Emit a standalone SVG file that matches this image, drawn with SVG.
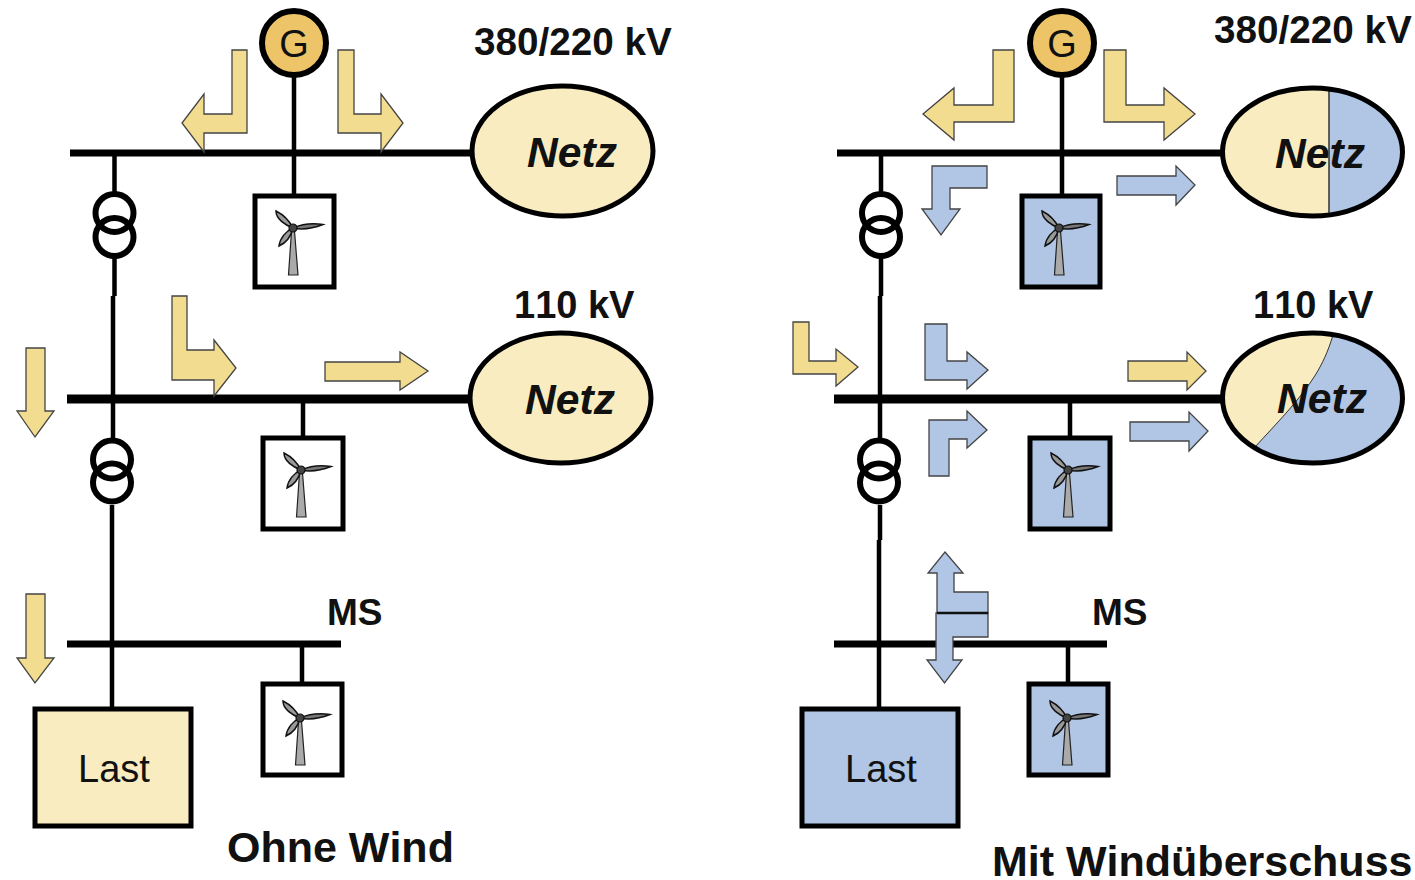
<svg xmlns="http://www.w3.org/2000/svg" width="1415" height="880" viewBox="0 0 1415 880">
<style>
text{font-family:"Liberation Sans",Arial,sans-serif;fill:#111;font-kerning:none}
.b{font-weight:bold;font-size:38px}
.v{font-size:38.7px}
.n{font-weight:bold;font-style:italic;font-size:42.6px}
.t{font-weight:bold;font-size:43px}
.l{font-size:38px;text-anchor:middle}
.w{stroke:#000;stroke-width:5;fill:#fff}
.wb{stroke:#000;stroke-width:5;fill:#B0C6E4}
.c{stroke:#000;fill:none;stroke-width:4.5}
.y{fill:#F2DC90;stroke:#444;stroke-width:1.3}
.u{fill:#B0C6E4;stroke:#444;stroke-width:1.3}
.cr{fill:#F8ECC0}
.bl{fill:#B0C6E4}
.o{fill:none;stroke:#000;stroke-width:5}
.tr{fill:none;stroke:#000;stroke-width:6}
</style>
<defs>
<g id="turbine">
<path d="M-1.5,3 L1.5,3 L5,47 L-4.5,47 Z" fill="#aaa" stroke="#222" stroke-width="1.2"/>
<path d="M0,0 C-3,-6 -9,-13 -17,-17 C-17,-9 -8,-3 0,0 Z" fill="#999" stroke="#111" stroke-width="1.5"/>
<path d="M0,0 C-7,3 -13,10 -14,18 C-7,15 -2,8 0,0 Z" fill="#999" stroke="#111" stroke-width="1.5"/>
<path d="M0,0 C9,-4 20,-5 30,-3.5 C21,0 9,2 0,0 Z" fill="#777" stroke="#111" stroke-width="1.5"/>
<circle r="4" fill="#444" stroke="#111" stroke-width="1.2"/>
</g>
<clipPath id="c1"><ellipse cx="1312.5" cy="152" rx="90" ry="64"/></clipPath>
<clipPath id="c2"><ellipse cx="1312.5" cy="398" rx="90" ry="65"/></clipPath>
</defs>

<g id="connectors">
<path class="c" d="M294,75V196M114.5,153V192M114.5,256V296M113,296V438M112,505V709"/>
<path class="c" d="M303,399V438M302,644V684"/>
<path class="c" d="M1062,75V196M881,153V192M881,256V296M880,296V438M880,505V540M879,540V709"/>
<path class="c" d="M1070,399V438M1068,644V684"/>
<path class="c" style="stroke-width:7" d="M70,153H470M837,153H1222M67,644H341M834,644H1107"/>
<path class="c" style="stroke-width:9" d="M67,399H470M834,399H1222"/>
</g>

<g id="arrows-left">
<polygon class="y" points="232,50 247,50 247,133 204,133 204,152 182,123 204,94 204,114 232,114"/>
<polygon class="y" points="354,50 338,50 338,133 381,133 381,152 403,123 381,94 381,114 354,114"/>
<polygon class="y" points="172,296 187,296 187,350 214,350 214,340 236,368 214,396 214,380 172,380"/>
<polygon class="y" points="325,362 400,362 400,352 428,371 400,390 400,381 325,381"/>
<polygon class="y" points="26,348 45,348 45,411 54,411 35,437 17,411 26,411"/>
<polygon class="y" points="26,594 45,594 45,658 54,658 35,683 17,658 26,658"/>
</g>
<g id="arrows-right">
<polygon class="y" points="993,50 1014,50 1014,122 954,122 954,140 923,114 954,88 954,105 993,105"/>
<polygon class="y" points="1104,50 1126,50 1126,105 1164,105 1164,88 1195,114 1164,140 1164,122 1104,122"/>
<polygon class="u" points="987,166 987,188 950,188 950,209 960,209 941,235 922,209 932,209 932,166"/>
<polygon class="u" points="1117,176 1176,176 1176,166 1195,185 1176,205 1176,195 1117,195"/>
<polygon class="y" points="1128,361 1187,361 1187,352 1206,371 1187,390 1187,381 1128,381"/>
<polygon class="u" points="1130,422 1189,422 1189,412 1208,431 1189,451 1189,441 1130,441"/>
<polygon class="y" points="793,322 809,322 809,361 836,361 836,349 858,367 836,386 836,374 793,374"/>
<polygon class="u" points="925,324 947,324 947,361 967,361 967,352 988,370 967,389 967,380 925,380"/>
<polygon class="u" points="929,476 949,476 949,439 967,439 967,448 987,430 967,411 967,420 929,420"/>
<polygon class="u" points="945,552 963,573 954,573 954,592 988,592 988,613 937,613 937,573 928,573"/>
<polygon class="u" points="936,613 988,613 988,637 953,637 953,660 962,660 944.5,683 927,660 936,660"/>
<path d="M937,613H988" stroke="#111" stroke-width="2.5" fill="none"/>
</g>

<g id="gen-left"><circle cx="294" cy="43" r="32" fill="#EDC468" stroke="#000" stroke-width="6"/><text class="l" x="294" y="57">G</text></g>
<g id="gen-right"><circle cx="1062" cy="43" r="32" fill="#EDC468" stroke="#000" stroke-width="6"/><text class="l" x="1062" y="57">G</text></g>

<g id="trafo-l1"><circle class="tr" cx="114.5" cy="213" r="19"/><circle class="tr" cx="114.5" cy="237" r="19"/></g>
<g id="trafo-l2"><circle class="tr" cx="112" cy="459.5" r="19"/><circle class="tr" cx="112" cy="482.5" r="19"/></g>
<g id="trafo-r1"><circle class="tr" cx="881" cy="213" r="19"/><circle class="tr" cx="881" cy="237" r="19"/></g>
<g id="trafo-r2"><circle class="tr" cx="879" cy="459.5" r="19"/><circle class="tr" cx="879" cy="482.5" r="19"/></g>

<g id="wind-l1"><rect class="w" x="255" y="196" width="79" height="91"/><use href="#turbine" x="293" y="228"/></g>
<g id="wind-l2"><rect class="w" x="263" y="438" width="80" height="91"/><use href="#turbine" x="301" y="470"/></g>
<g id="wind-l3"><rect class="w" x="263" y="684" width="79" height="91"/><use href="#turbine" x="300" y="718"/></g>
<g id="wind-r1"><rect class="wb" x="1022" y="196" width="78" height="91"/><use href="#turbine" x="1059" y="228"/></g>
<g id="wind-r2"><rect class="wb" x="1030" y="438" width="80" height="91"/><use href="#turbine" x="1068" y="470"/></g>
<g id="wind-r3"><rect class="wb" x="1029" y="684" width="79" height="91"/><use href="#turbine" x="1067" y="718"/></g>

<g id="last-left"><rect x="35" y="709" width="156" height="117" fill="#F8ECC0" stroke="#000" stroke-width="5"/><text class="l" x="114" y="782">Last</text></g>
<g id="last-right"><rect x="802" y="709" width="156" height="117" fill="#B0C6E4" stroke="#000" stroke-width="5"/><text class="l" x="881" y="782">Last</text></g>

<g id="netz-l1"><ellipse class="o" style="fill:#F8ECC0" cx="562.5" cy="151" rx="90.5" ry="65"/><text class="n" x="527" y="167">Netz</text></g>
<g id="netz-l2"><ellipse class="o" style="fill:#F8ECC0" cx="560.5" cy="398" rx="90.5" ry="65"/><text class="n" x="525" y="414">Netz</text></g>
<g id="netz-r1">
<ellipse class="cr" cx="1312.5" cy="152" rx="90" ry="64"/>
<rect class="bl" x="1329" y="80" width="80" height="140" clip-path="url(#c1)"/>
<path d="M1329,89V216" stroke="#333" stroke-width="1.5" fill="none"/>
<ellipse class="o" cx="1312.5" cy="152" rx="90" ry="64"/>
<text class="n" x="1275" y="168">Netz</text></g>
<g id="netz-r2">
<ellipse class="cr" cx="1312.5" cy="398" rx="90" ry="65"/>
<path class="bl" clip-path="url(#c2)" d="M1333,335 C1328,352 1322,364 1316,374 C1300,400 1275,425 1255,447 L1300,470 L1410,470 L1410,335 Z" stroke="#333" stroke-width="1"/>
<ellipse class="o" cx="1312.5" cy="398" rx="90" ry="65"/>
<text class="n" x="1277" y="413">Netz</text></g>

<g id="labels">
<text class="b v" x="474" y="55">380/220 kV</text>
<text class="b" x="514" y="318">110 kV</text>
<text class="b" x="327" y="625" style="font-size:37px">MS</text>
<text class="t" x="227" y="862">Ohne Wind</text>
<text class="b v" x="1214" y="43">380/220 kV</text>
<text class="b" x="1253" y="318">110 kV</text>
<text class="b" x="1092" y="625" style="font-size:37px">MS</text>
<text class="t" x="992" y="875.5">Mit Windüberschuss</text>
</g>
</svg>
